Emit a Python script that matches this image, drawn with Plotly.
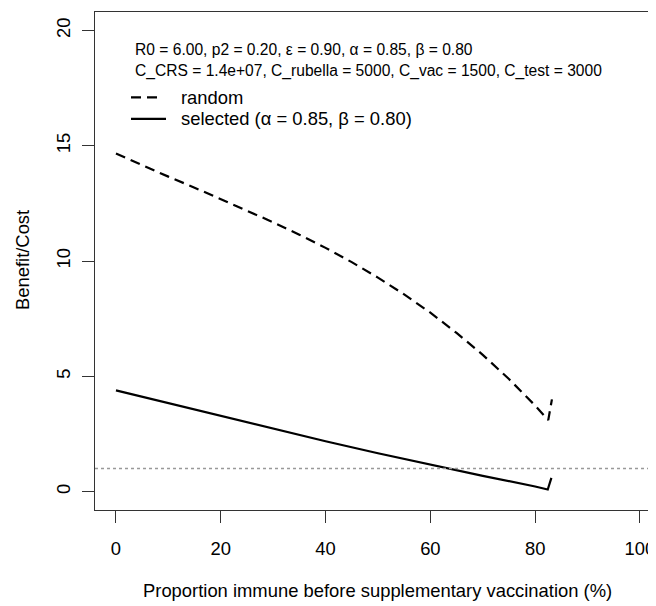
import plotly.graph_objects as go

# Proportion immune before supplementary vaccination (%)
random_x = [0, 5, 10, 15, 20, 25, 30, 35, 40, 45, 50, 55, 60, 65, 70, 75, 80, 82.5, 83.2]
random_y = [14.66, 14.15, 13.66, 13.18, 12.69, 12.20, 11.68, 11.14, 10.57, 9.95, 9.28,
            8.55, 7.76, 6.88, 5.93, 4.88, 3.73, 3.10, 4.0]

selected_x = [0, 10, 20, 30, 40, 50, 60, 70, 80, 82.4, 83.1]
selected_y = [4.39, 3.83, 3.27, 2.72, 2.18, 1.66, 1.16, 0.68, 0.22, 0.09, 0.59]

x_ticks = [0, 20, 40, 60, 80, 100]
y_ticks = [0, 5, 10, 15, 20]
ref_level = 1

info_line1 = "R0 = 6.00, p2 = 0.20, ε = 0.90, α = 0.85, β = 0.80"
info_line2 = "C_CRS = 1.4e+07, C_rubella = 5000, C_vac = 1500, C_test = 3000"
legend_labels = ["random", "selected (α = 0.85, β = 0.80)"]
x_title = "Proportion immune before supplementary vaccination (%)"
y_title = "Benefit/Cost"

FONT = "Liberation Sans, Arial, sans-serif"
OFF = 8  # page body margin
W, H = 656 - OFF, 606 - OFF
ML, MR, MT, MB = 95 - OFF, 0, 11.5 - OFF, (606 - OFF) - (510.5 - OFF)
XR = [-4, -4 + (W - ML - MR) / 5.24]
YR = [-0.8, 20.8]


def px_x(px):
    return (px - OFF - ML) / (W - ML - MR)


def px_y(py):
    return 1 - (py - OFF - MT) / (H - MT - MB)


fig = go.Figure()
fig.add_trace(go.Scatter(x=random_x, y=random_y, mode="lines", name=legend_labels[0],
                         line=dict(color="black", width=2.2, dash="10px,6px"), showlegend=False))
fig.add_trace(go.Scatter(x=selected_x, y=selected_y, mode="lines", name=legend_labels[1],
                         line=dict(color="black", width=2.2), showlegend=False))

# reference line
fig.add_shape(type="line", xref="paper", x0=0, x1=1, yref="y", y0=ref_level, y1=ref_level,
              line=dict(color="#999999", width=1.5, dash="3px,3px"))

# parameter text
fig.add_annotation(text=info_line1, xref="paper", yref="paper", x=px_x(133), y=px_y(49.5),
                   xanchor="left", yanchor="middle", showarrow=False,
                   font=dict(family=FONT, size=15.6, color="black"))
fig.add_annotation(text=info_line2, xref="paper", yref="paper", x=px_x(133), y=px_y(71),
                   xanchor="left", yanchor="middle", showarrow=False,
                   font=dict(family=FONT, size=15.6, color="black"))

# legend
leg_rows = [97, 118.5]
fig.add_shape(type="line", xref="paper", yref="paper", x0=px_x(131), x1=px_x(162),
              y0=px_y(leg_rows[0]), y1=px_y(leg_rows[0]),
              line=dict(color="black", width=2.2, dash="10px,6px"))
fig.add_shape(type="line", xref="paper", yref="paper", x0=px_x(131), x1=px_x(166),
              y0=px_y(leg_rows[1]), y1=px_y(leg_rows[1]),
              line=dict(color="black", width=2.2))
for lab, row in zip(legend_labels, leg_rows):
    fig.add_annotation(text=lab, xref="paper", yref="paper", x=px_x(179), y=px_y(row),
                       xanchor="left", yanchor="middle", showarrow=False,
                       font=dict(family=FONT, size=18.4, color="black"))

# axis titles
fig.add_annotation(text=x_title, xref="paper", yref="paper", x=px_x(377), y=px_y(591),
                   xanchor="center", yanchor="middle", showarrow=False,
                   font=dict(family=FONT, size=18.4, color="black"))
fig.add_annotation(text=y_title, xref="paper", yref="paper", x=px_x(22), y=px_y(260),
                   xanchor="center", yanchor="middle", showarrow=False, textangle=-90,
                   font=dict(family=FONT, size=18.4, color="black"))

axis_common = dict(showgrid=False, zeroline=False, showline=True, linecolor="#333333", linewidth=1,
                   ticks="outside", ticklen=12, tickcolor="#333333", tickwidth=1,
                   tickfont=dict(family=FONT, size=18.4, color="black"))

fig.update_layout(
    width=W, height=H,
    margin=dict(l=ML, r=MR, t=MT, b=MB),
    paper_bgcolor="white", plot_bgcolor="white",
    font=dict(family=FONT, size=18.4, color="black"),
    xaxis=dict(range=XR, tickvals=x_ticks, mirror=True, ticklabelstandoff=10, **axis_common),
    yaxis=dict(range=YR, tickvals=y_ticks, tickangle=-90, ticklabelstandoff=5, **axis_common),
)

fig.write_html("out.html")
